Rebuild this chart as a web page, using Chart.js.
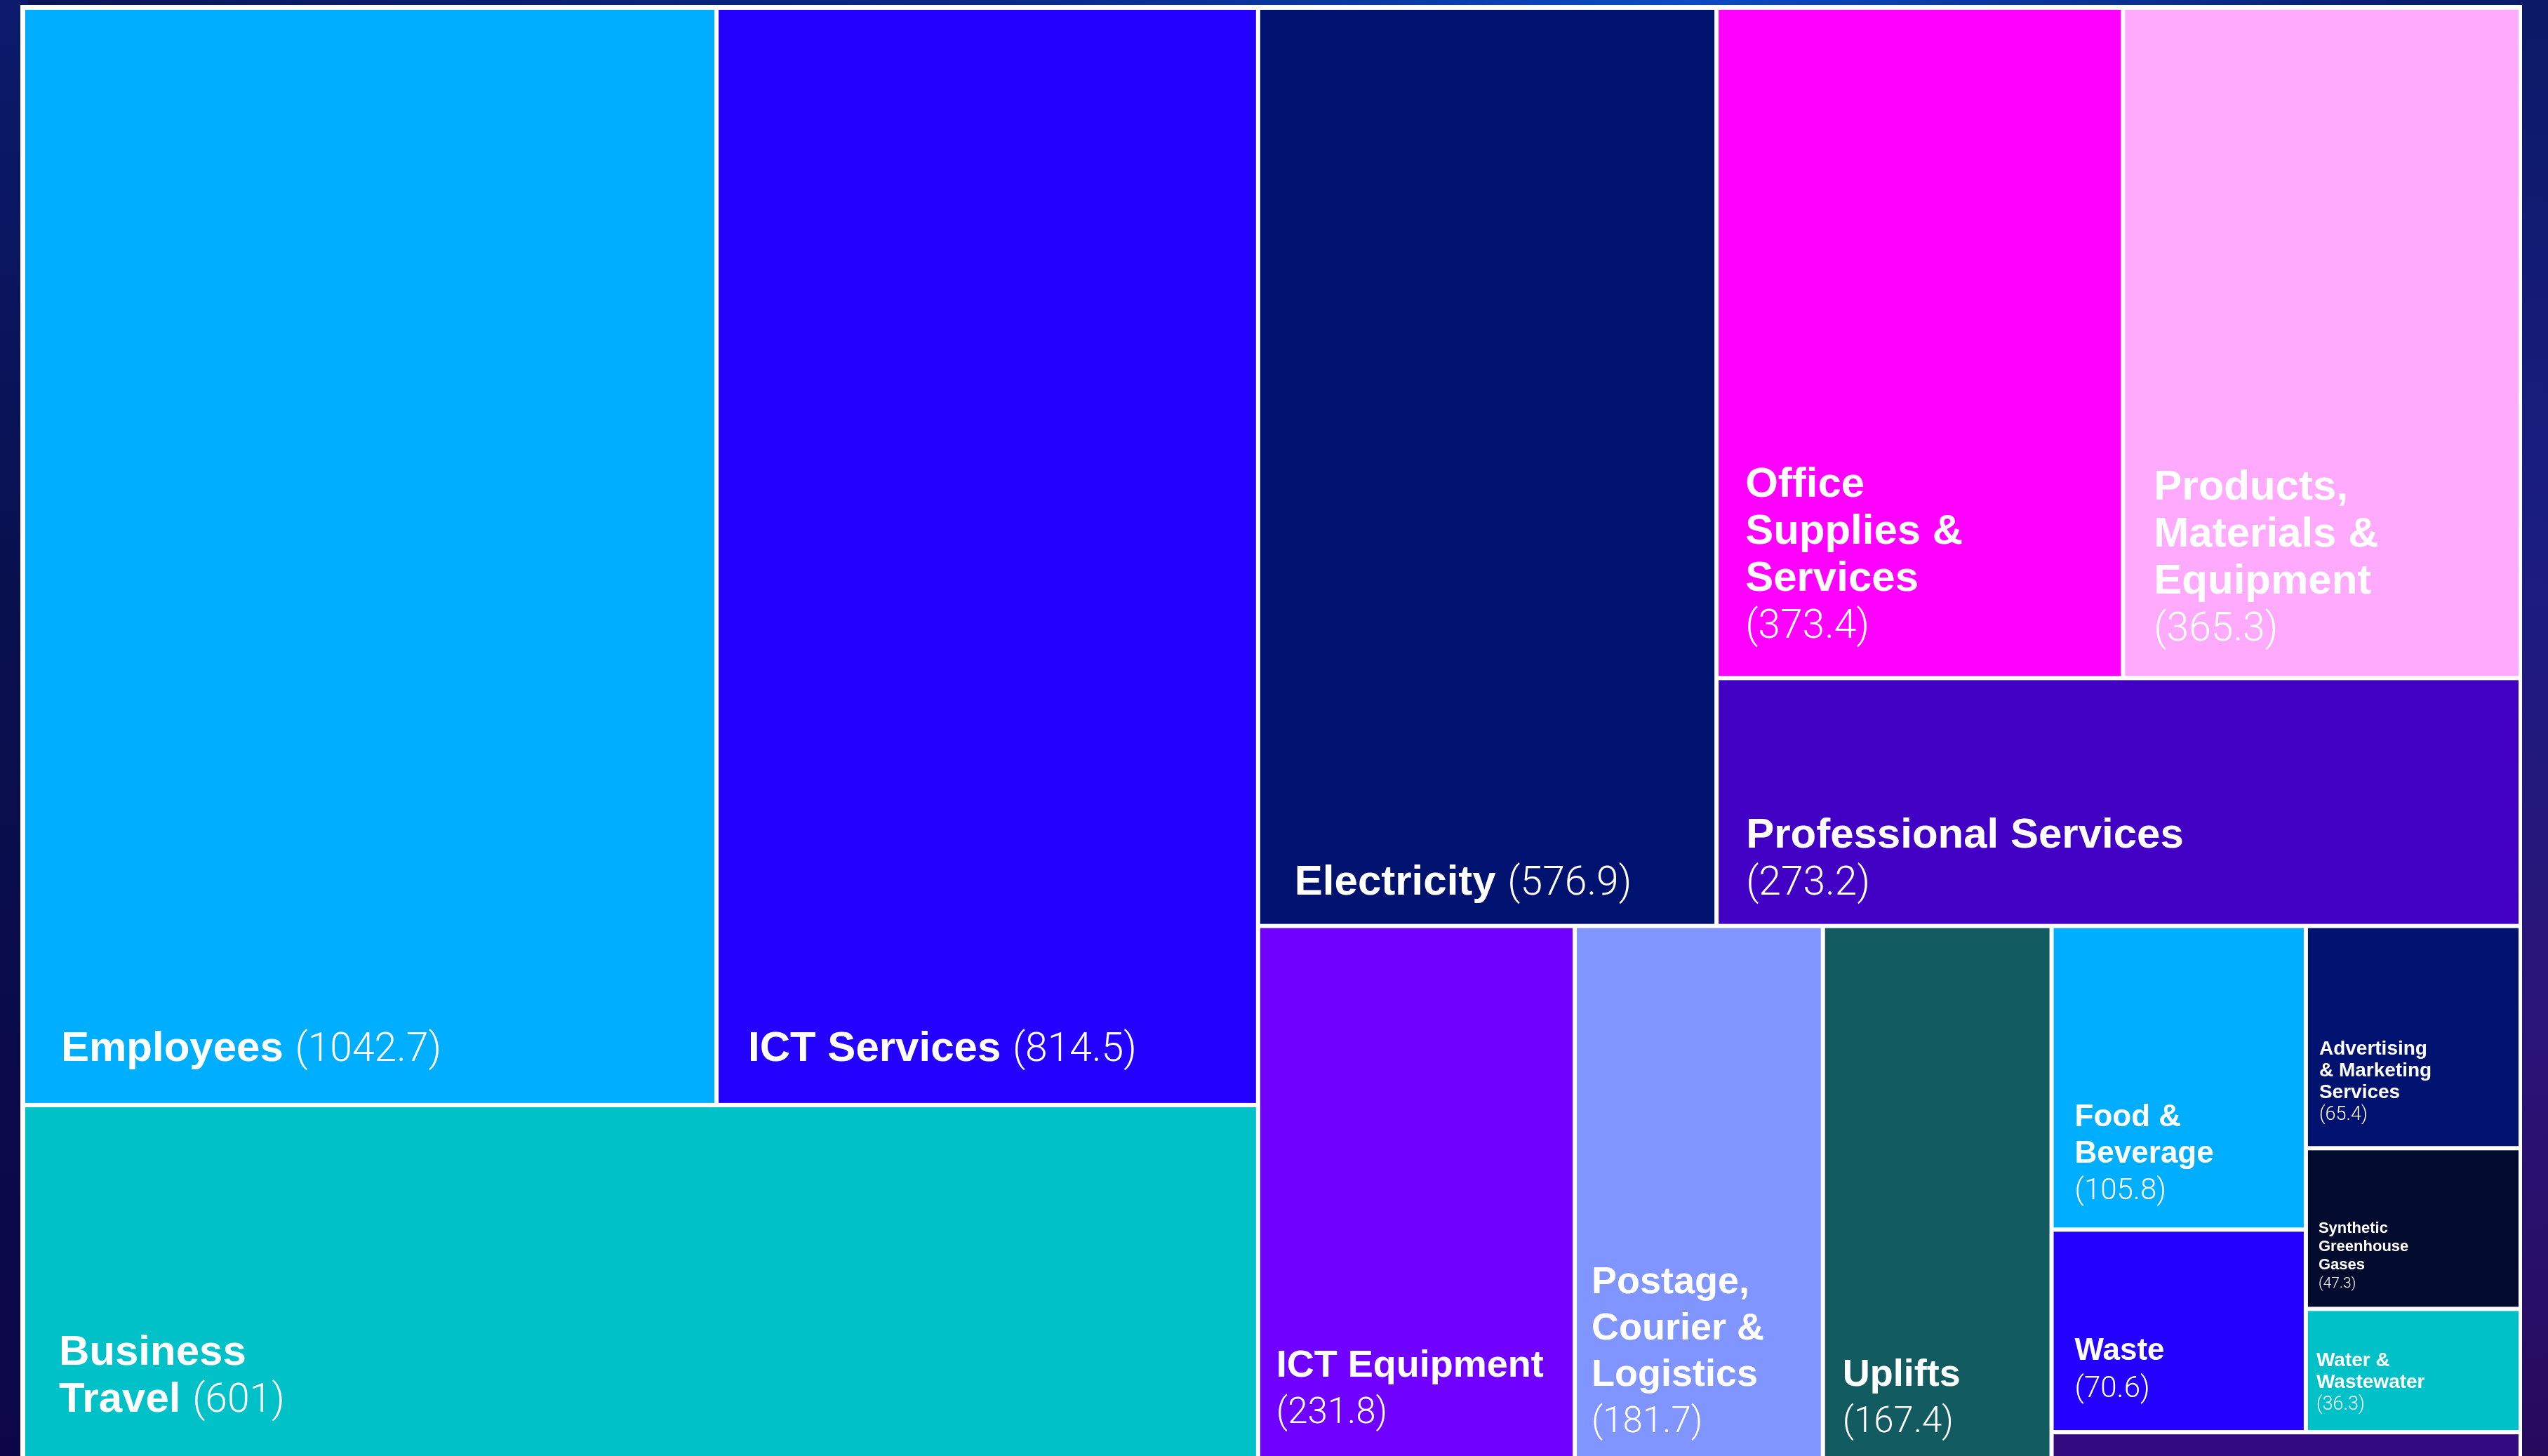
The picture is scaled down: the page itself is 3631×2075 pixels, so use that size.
<!DOCTYPE html>
<html>
<head>
<meta charset="utf-8">
<title>Emissions treemap</title>
<script src="https://cdn.jsdelivr.net/npm/chart.js@4.4.1/dist/chart.umd.min.js"></script>
<style>
  html, body {
    margin: 0;
    padding: 0;
    width: 3631px;
    height: 2075px;
    overflow: hidden;
  }
  body {
    position: relative;
    background:
      radial-gradient(ellipse 900px 120px at 66% 0%, #0b4bc6 0%, rgba(10, 60, 170, 0.6) 50%, rgba(10, 40, 140, 0) 100%),
      radial-gradient(ellipse 300px 900px at 100% 75%, #3a1890 0%, rgba(40, 20, 110, 0) 100%),
      linear-gradient(90deg, #0b1558 0%, #0a2a8c 40%, #0a3aa8 65%, #0a1a68 100%);
  }
  .side {
    position: absolute;
    top: 0;
    bottom: 0;
    width: 40px;
  }
  #leftSide { left: 0; background: linear-gradient(180deg, #0b1a6c 0%, #08104e 40%, #0c0648 100%); }
  #rightSide { right: 0; background: linear-gradient(180deg, #0a1a66 0%, #1a1d80 35%, #2a1478 70%, #260a5c 100%); }
  /* the map runs a few pixels past the bottom of the slide, as in the original crop */
  #wrap {
    position: absolute;
    left: 0;
    top: 0;
    width: 3631px;
    height: 2081px;
  }
</style>
</head>
<body>
<div class="side" id="leftSide"></div>
<div class="side" id="rightSide"></div>
<div id="wrap"><canvas id="treemapChart"></canvas></div>
<script>
// Emission sources (tCO2e)
const categories = [
    'Employees', 'ICT Services', 'Business Travel', 'Electricity',
    'Office Supplies & Services', 'Products, Materials & Equipment', 'Professional Services',
    'ICT Equipment', 'Postage, Courier & Logistics', 'Uplifts', 'Food & Beverage', 'Waste',
    'Advertising & Marketing Services', 'Synthetic Greenhouse Gases', 'Water & Wastewater', 'Other'
];
const emissions = [1042.7, 814.5, 601, 576.9, 373.4, 365.3, 273.2, 231.8, 181.7, 167.4, 105.8, 70.6, 65.4, 47.3, 36.3, 18];

const cellColors = [
    '#00aeff', '#2400ff', '#00c1c8', '#001270',
    '#ff00ff', '#ffaafd', '#4200c4',
    '#7000ff', '#8095ff', '#125b60', '#00aeff', '#2400ff',
    '#001270', '#020b2e', '#00c1c8', '#330a80'
];

// Label wrapping and sizes per cell
const labelLines = [
    ['Employees'], ['ICT Services'], ['Business', 'Travel'], ['Electricity'],
    ['Office', 'Supplies &', 'Services'], ['Products,', 'Materials &', 'Equipment'], ['Professional Services'],
    ['ICT Equipment'], ['Postage,', 'Courier &', 'Logistics'], ['Uplifts'], ['Food &', 'Beverage'], ['Waste'],
    ['Advertising', '& Marketing', 'Services'], ['Synthetic', 'Greenhouse', 'Gases'], ['Water &', 'Wastewater'], []
];
const valueInline = [true, true, true, true, false, false, false, false, false, false, false, false, false, false, false, false];
const labelSize = [60, 60, 60, 60, 60, 60, 60, 54, 54, 54, 44, 44, 28, 22, 28, 0];
const labelLineH = [67, 67, 67, 67, 67, 67, 67, 66, 66, 66, 52, 53, 31, 26, 31, 0];
const labelPadX = [51, 42, 48, 49, 38, 41, 39, 23, 21, 25, 30, 30, 16, 15, 12, 0];
const labelPadY = [60, 60, 66, 42, 54, 50, 42, 50, 37, 37, 40, 47, 37, 27, 29, 0];

// How the cells are grouped: 'row' splits left-to-right, 'col' splits top-to-bottom
const layout = {
    dir: 'row', items: [
        { dir: 'col', items: [{ dir: 'row', items: [0, 1] }, 2] },
        { dir: 'col', items: [
            { dir: 'row', items: [3, { dir: 'col', items: [{ dir: 'row', items: [4, 5] }, 6] }] },
            { dir: 'row', items: [7, 8, 9, { dir: 'col', items: [
                { dir: 'row', items: [{ dir: 'col', items: [10, 11] }, { dir: 'col', items: [12, 13, 14] }] },
                15
            ] }] }
        ] }
    ]
};

function nodeValue(node) {
    if (typeof node === 'number') return emissions[node];
    return node.items.reduce((s, n) => s + nodeValue(n), 0);
}

// slice-and-dice in data units (0..1 on both axes)
function place(node, x0, y0, x1, y1, out) {
    if (typeof node === 'number') {
        out[node] = { x0, y0, x1, y1 };
        return;
    }
    const total = nodeValue(node);
    let pos = node.dir === 'row' ? x0 : y0;
    node.items.forEach(child => {
        const share = nodeValue(child) / total;
        if (node.dir === 'row') {
            const w = (x1 - x0) * share;
            place(child, pos, y0, pos + w, y1, out);
            pos += w;
        } else {
            const h = (y1 - y0) * share;
            place(child, x0, pos, x1, pos + h, out);
            pos += h;
        }
    });
}

const rects = [];
place(layout, 0, 0, 1, 1, rects);

const cellPoints = categories.map((name, i) => ({
    x: (rects[i].x0 + rects[i].x1) / 2,
    y: (rects[i].y0 + rects[i].y1) / 2,
    rect: rects[i],
    index: i
}));

const nameFont = size => `bold ${size}px "Liberation Sans", Arial, Helvetica, sans-serif`;
const valueFont = size => `300 ${Math.round(size * 0.95)}px Roboto, "Liberation Sans", Arial, sans-serif`;

// Draws the treemap cells and their labels using the chart scales
const treemapCells = {
    id: 'treemapCells',
    beforeDatasetsDraw(chart) {
        const { ctx, chartArea, scales: { x, y } } = chart;
        const gap = 3;

        ctx.save();
        // white frame behind the whole map
        ctx.fillStyle = '#ffffff';
        ctx.fillRect(chartArea.left - 4, chartArea.top - 4,
            chartArea.right - chartArea.left + 6, chartArea.bottom - chartArea.top + 10);

        chart.data.datasets[0].data.forEach(pt => {
            const i = pt.index;
            const r = pt.rect;
            const left = x.getPixelForValue(r.x0) + gap;
            const right = x.getPixelForValue(r.x1) - gap;
            const top = y.getPixelForValue(r.y0) + gap;
            const bottom = y.getPixelForValue(r.y1) - gap;

            ctx.fillStyle = cellColors[i];
            ctx.fillRect(left, top, right - left, bottom - top);

            if (!labelLines[i].length) return;

            const size = labelSize[i];
            const lineH = labelLineH[i];
            const valueText = '(' + emissions[i] + ')';
            const lines = labelLines[i];
            const nLines = valueInline[i] ? lines.length : lines.length + 1;
            const tx = left + labelPadX[i];
            let baseY = bottom - labelPadY[i] - (nLines - 1) * lineH;

            ctx.save();
            ctx.beginPath();
            ctx.rect(left, top, right - left, bottom - top);
            ctx.clip();
            ctx.fillStyle = '#ffffff';
            ctx.textBaseline = 'alphabetic';
            ctx.textAlign = 'left';

            lines.forEach((line, li) => {
                ctx.font = nameFont(size);
                ctx.fillText(line, tx, baseY);
                if (valueInline[i] && li === lines.length - 1) {
                    const w = ctx.measureText(line + ' ').width;
                    ctx.font = valueFont(size);
                    ctx.fillText(valueText, tx + w, baseY);
                }
                baseY += lineH;
            });
            if (!valueInline[i]) {
                ctx.font = valueFont(size);
                ctx.fillText(valueText, tx, baseY);
            }
            ctx.restore();
        });
        ctx.restore();
    }
};

document.addEventListener('DOMContentLoaded', () => {
    const ctx = document.getElementById('treemapChart');

    new Chart(ctx, {
        type: 'scatter',
        data: {
            datasets: [{
                label: 'Emissions',
                data: cellPoints,
                pointRadius: 0,
                pointHoverRadius: 0
            }]
        },
        options: {
            responsive: true,
            maintainAspectRatio: false,
            animation: false,
            layout: {
                padding: { left: 33, top: 11, right: 39, bottom: 0 }
            },
            scales: {
                x: { type: 'linear', min: 0, max: 1, display: false },
                y: { type: 'linear', min: 0, max: 1, reverse: true, display: false }
            },
            plugins: {
                legend: { display: false },
                tooltip: { enabled: false }
            }
        },
        plugins: [treemapCells]
    });
});
</script>
</body>
</html>
